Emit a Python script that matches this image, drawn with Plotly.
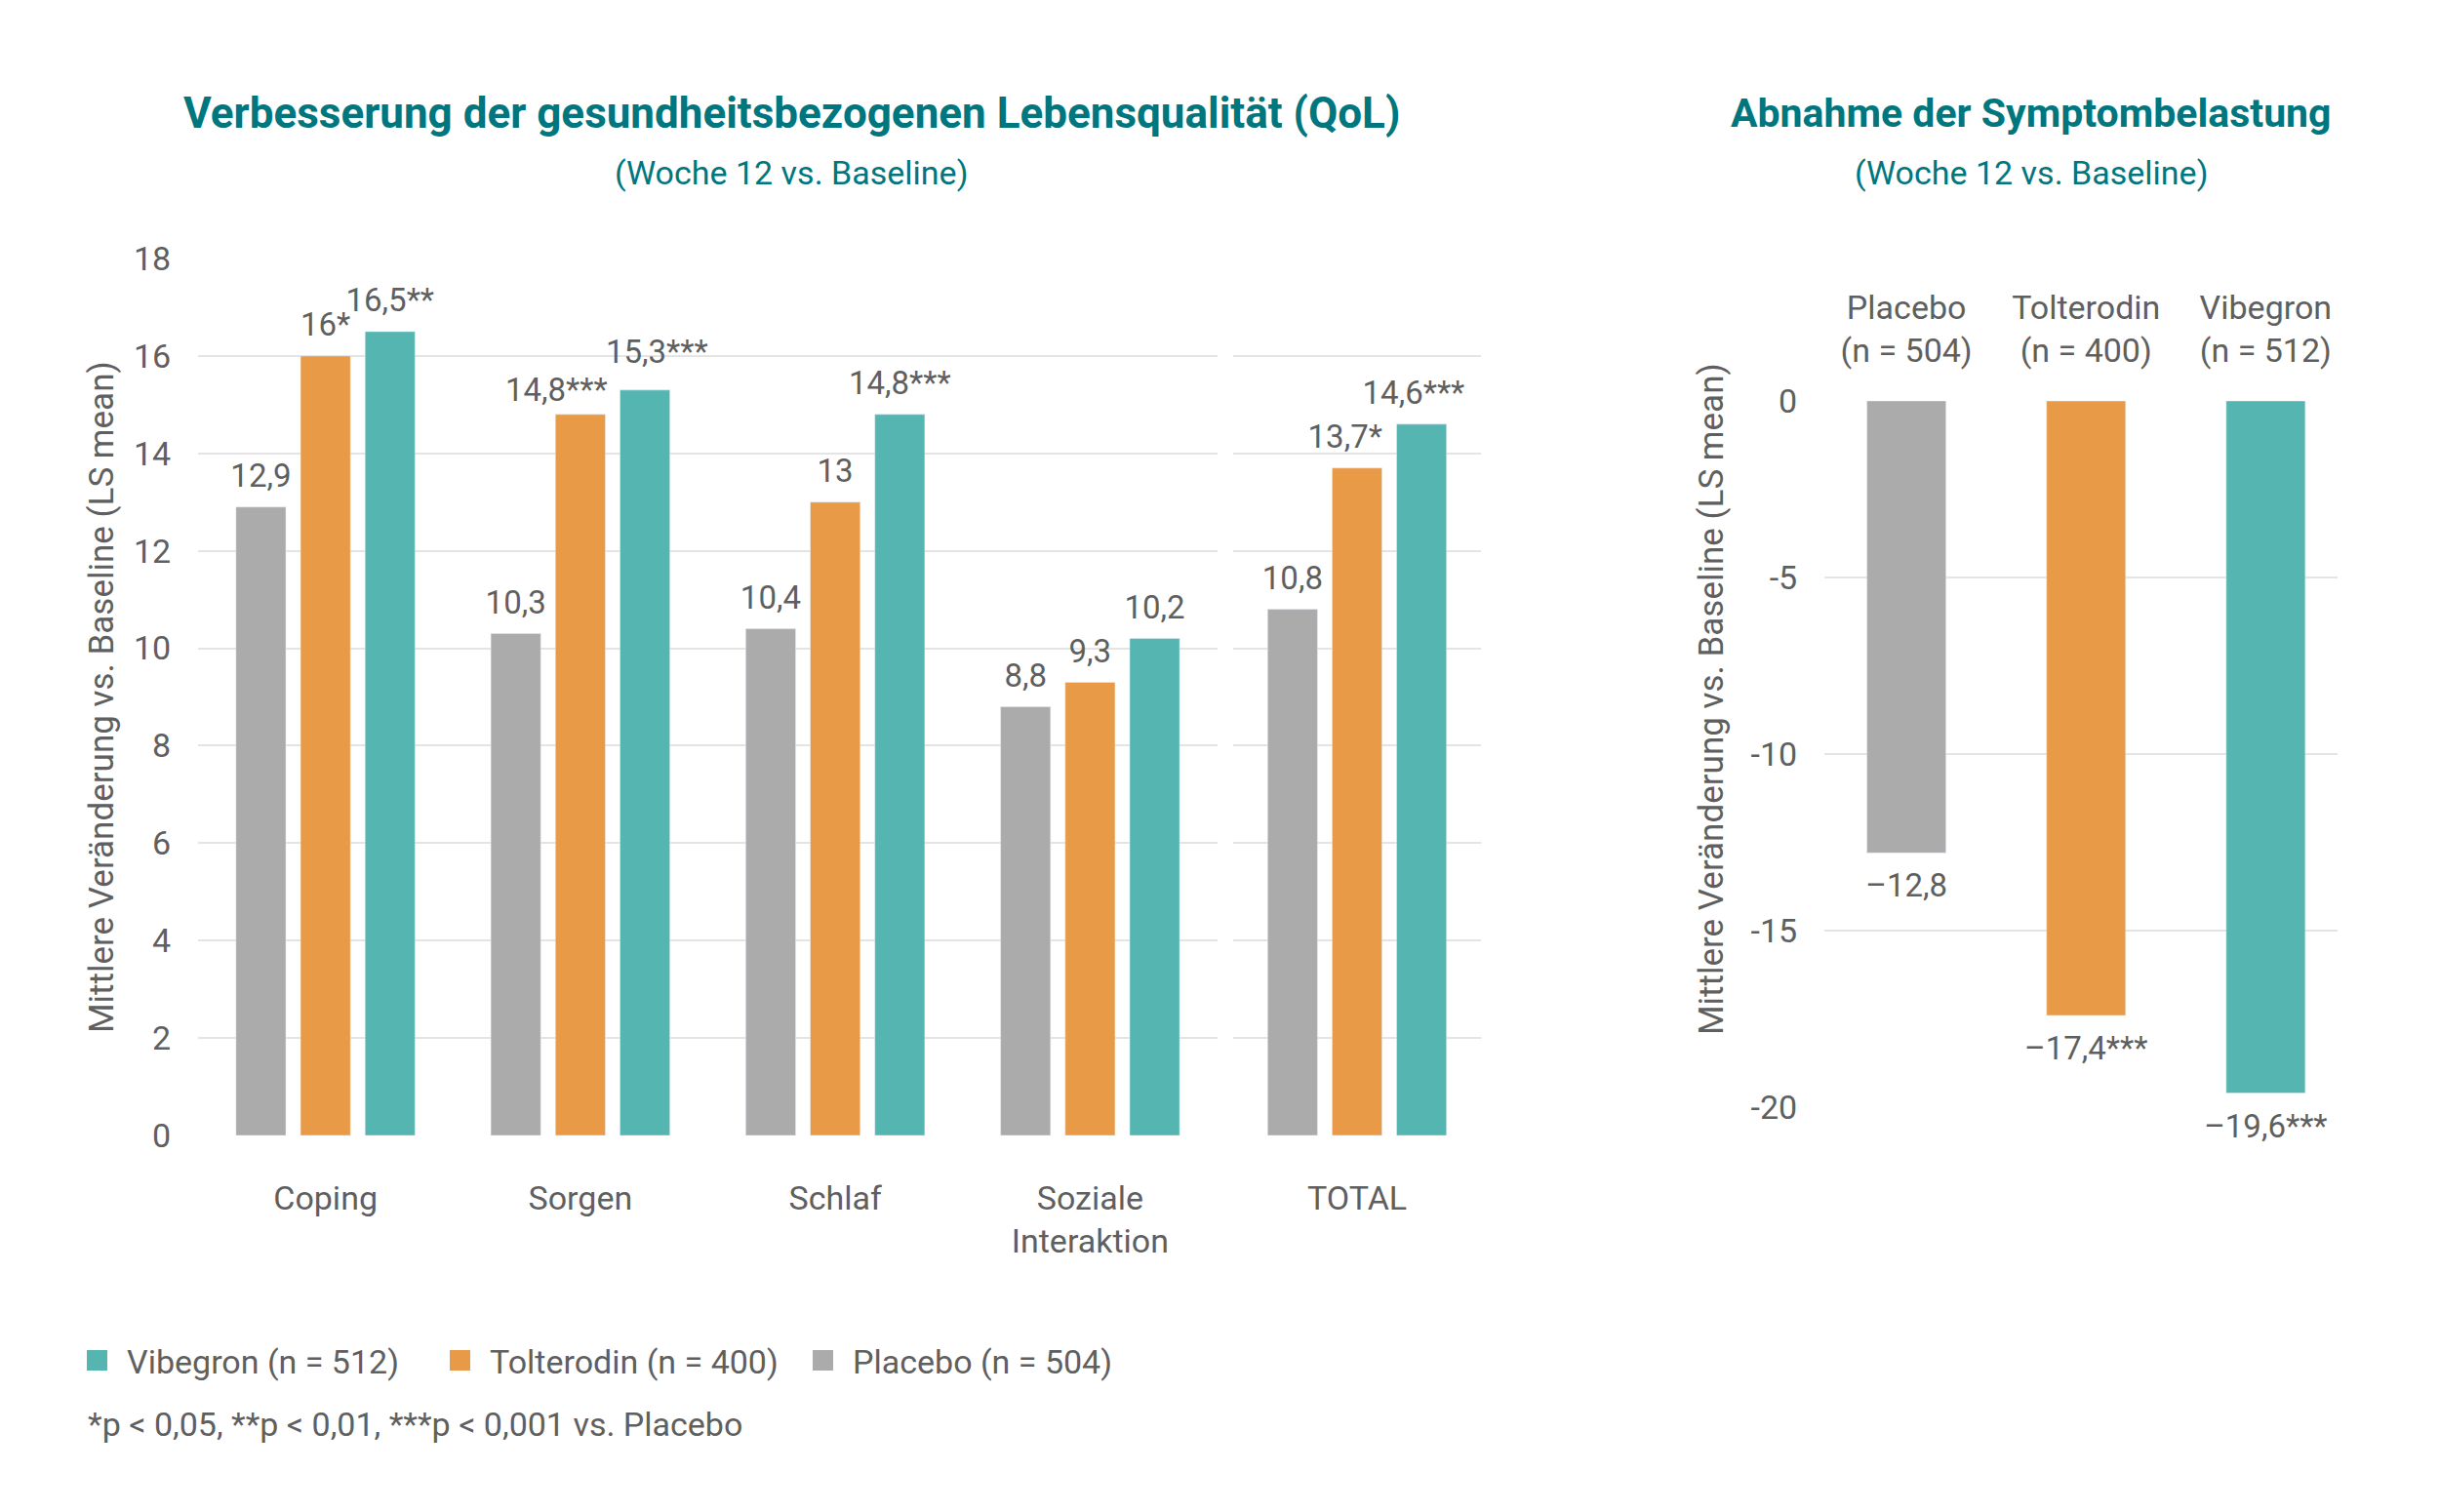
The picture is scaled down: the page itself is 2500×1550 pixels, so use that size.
import plotly.graph_objects as go

# ---------------- data ----------------
categories = ["Coping", "Sorgen", "Schlaf", "Soziale<br>Interaktion"]
total_cat = ["TOTAL"]
placebo = [12.9, 10.3, 10.4, 8.8]
tolterodin = [16.0, 14.8, 13.0, 9.3]
vibegron = [16.5, 15.3, 14.8, 10.2]
placebo_total = [10.8]
tolterodin_total = [13.7]
vibegron_total = [14.6]
sig_placebo = ["", "", "", ""]
sig_tolterodin = ["*", "***", "", ""]
sig_vibegron = ["**", "***", "***", ""]
sig_placebo_total = [""]
sig_tolterodin_total = ["*"]
sig_vibegron_total = ["***"]

sym_groups = ["Placebo<br>(n = 504)", "Tolterodin<br>(n = 400)", "Vibegron<br>(n = 512)"]
sym_values = [-12.8, -17.4, -19.6]
sym_sig = ["", "***", "***"]

left_ticks = [0, 2, 4, 6, 8, 10, 12, 14, 16, 18]
right_ticks = [0, -5, -10, -15, -20]

series_names = ["Placebo (n = 504)", "Tolterodin (n = 400)", "Vibegron (n = 512)"]
colors = ["#ababab", "#e89a46", "#55b5b0"]

# ---------------- label styling (not data) ----------------
# (nbsp before, nbsp after) horizontal nudges; label gap via invisible marker size
nudge_main = [[(0, 0)] * 4,
              [(0, 0), (0, 6), (0, 0), (0, 0)],
              [(0, 0), (3, 0), (0, 0), (0, 0)]]
gap_main = [[18] * 4, [18, 7, 18, 18], [18, 30, 18, 18]]
nudge_total = [[(0, 0)], [(0, 3)], [(0, 2)]]
gap_total = [[18], [18], [18]]
gap_sym = 31

TEAL = "#00767f"
TXT = "#5f5f5f"
GRID = "#e4e4e4"
FONT = "Roboto"
NB = "\u00a0"
BARGAP = 0.24


def fmt(v, s, nudge=(0, 0)):
    t = f"{v:.1f}".replace(".", ",")
    if t.endswith(",0"):
        t = t[:-2]
    return NB * nudge[0] + t.replace("-", "\u2013") + s + NB * nudge[1]


fig = go.Figure()

main_sets = [(placebo, sig_placebo, placebo_total, sig_placebo_total),
             (tolterodin, sig_tolterodin, tolterodin_total, sig_tolterodin_total),
             (vibegron, sig_vibegron, vibegron_total, sig_vibegron_total)]

LBL = dict(family=FONT, size=33, color=TXT)

for i, (vals, sig, tv, ts) in enumerate(main_sets):
    fig.add_trace(go.Bar(x=categories, y=vals, name=series_names[i], marker=dict(color=colors[i]),
                         xaxis="x", yaxis="y", showlegend=False, hoverinfo="skip"))
    fig.add_trace(go.Bar(x=total_cat, y=tv, name=series_names[i], marker=dict(color=colors[i]),
                         xaxis="x2", yaxis="y2", showlegend=False, hoverinfo="skip"))

fig.add_trace(go.Bar(x=sym_groups, y=sym_values, marker=dict(color=colors), width=0.44,
                     xaxis="x3", yaxis="y3", showlegend=False, hoverinfo="skip"))

# value labels (grouped scatter text, aligned with the grouped bars)
for i, (vals, sig, tv, ts) in enumerate(main_sets):
    fig.add_trace(go.Scatter(
        x=categories, y=vals, mode="markers+text", orientation="v",
        marker=dict(size=gap_main[i], opacity=0, color=colors[i]),
        text=[fmt(v, s, n) for v, s, n in zip(vals, sig, nudge_main[i])], textposition="top center",
        textfont=LBL, cliponaxis=False, xaxis="x", yaxis="y", showlegend=False, hoverinfo="skip"))
    fig.add_trace(go.Scatter(
        x=total_cat, y=tv, mode="markers+text", orientation="v",
        marker=dict(size=gap_total[i], opacity=0, color=colors[i]),
        text=[fmt(v, s, n) for v, s, n in zip(tv, ts, nudge_total[i])], textposition="top center",
        textfont=LBL, cliponaxis=False, xaxis="x2", yaxis="y2", showlegend=False, hoverinfo="skip"))

fig.add_trace(go.Scatter(
    x=sym_groups, y=sym_values, mode="markers+text", orientation="v",
    marker=dict(size=gap_sym, opacity=0, color="#000"),
    text=[fmt(v, s) for v, s in zip(sym_values, sym_sig)], textposition="bottom center",
    textfont=LBL, cliponaxis=False, xaxis="x3", yaxis="y3", showlegend=False, hoverinfo="skip"))

# legend entries (Vibegron, Tolterodin, Placebo) on a hidden helper axis
for i in [2, 1, 0]:
    fig.add_trace(go.Scatter(
        x=[None], y=[None], mode="markers", name=series_names[i],
        marker=dict(symbol="square", size=16, color=colors[i], line=dict(width=5, color=colors[i])),
        xaxis="x4", yaxis="y4", showlegend=True, hoverinfo="skip"))

W, H = 2500, 1550
px = lambda x: x / W
py = lambda y: 1 - y / H

tickfont = dict(family=FONT, size=34, color=TXT)
HIDE = "rgba(0,0,0,0)"
yleft = dict(range=[0, 18], tickvals=left_ticks, showgrid=True, gridcolor=GRID, gridwidth=2, zeroline=False,
             showline=False, tickfont=tickfont, ticks="outside", ticklen=20, tickcolor=HIDE,
             domain=[py(1164), py(265)], automargin=False)

fig.update_layout(
    width=W, height=H, margin=dict(l=0, r=0, t=0, b=0, autoexpand=False),
    paper_bgcolor="white", plot_bgcolor="white",
    barmode="group", bargap=BARGAP, bargroupgap=0.227,
    scattermode="group", scattergap=BARGAP,
    font=dict(family=FONT, color=TXT),
    xaxis=dict(domain=[px(203), px(1248)], tickfont=tickfont, ticks="outside", ticklen=34,
               tickcolor=HIDE, showline=False, showgrid=False, automargin=False),
    xaxis2=dict(domain=[px(1264), px(1518)], range=[-0.4866, 0.4866], tickfont=tickfont, ticks="outside",
                ticklen=34, tickcolor=HIDE, showline=False, showgrid=False, anchor="y2", automargin=False),
    xaxis3=dict(domain=[px(1870), px(2396)], range=[-0.457, 2.40], side="top", tickfont=tickfont,
                ticks="outside", ticklen=25, tickcolor=HIDE, showline=False, showgrid=False,
                anchor="y3", automargin=False),
    xaxis4=dict(domain=[0, 0.01], visible=False, anchor="y4"),
    yaxis=yleft,
    yaxis2=dict(yleft, showticklabels=False, anchor="x2"),
    yaxis3=dict(range=[-20, 0], tickvals=right_ticks, ticktext=[str(t) for t in right_ticks],
                showgrid=True, gridcolor=GRID, gridwidth=2, zeroline=False,
                showline=False, tickfont=tickfont, ticks="outside", ticklen=20,
                tickcolor=HIDE, domain=[py(1135), py(411)], anchor="x3", automargin=False),
    yaxis4=dict(domain=[0, 0.01], visible=False, anchor="x4"),
    legend=dict(orientation="h", x=px(69), y=py(1395), xanchor="left", yanchor="middle",
                font=dict(family=FONT, size=34, color=TXT), traceorder="normal", itemwidth=51,
                entrywidth=306, entrywidthmode="pixels"),
    showlegend=True,
)

annos = [
    dict(text="<b>Verbesserung der gesundheitsbezogenen Lebensqualität (QoL)</b>", x=px(811), y=py(116),
         font=dict(family=FONT, size=44, color=TEAL)),
    dict(text="(Woche 12 vs. Baseline)", x=px(811), y=py(177), font=dict(family=FONT, size=34, color=TEAL)),
    dict(text="<b>Abnahme der Symptombelastung</b>", x=px(2082), y=py(116),
         font=dict(family=FONT, size=41, color=TEAL)),
    dict(text="(Woche 12 vs. Baseline)", x=px(2082), y=py(177), font=dict(family=FONT, size=34, color=TEAL)),
    dict(text="Mittlere Veränderung vs. Baseline (LS mean)", x=px(104), y=py(715), textangle=-90,
         font=dict(family=FONT, size=35, color=TXT)),
    dict(text="Mittlere Veränderung vs. Baseline (LS mean)", x=px(1754), y=py(717), textangle=-90,
         font=dict(family=FONT, size=35, color=TXT)),
]
for a in annos:
    fig.add_annotation(xref="paper", yref="paper", showarrow=False, xanchor="center", yanchor="middle", **a)

fig.add_annotation(text="*p &lt; 0,05, **p &lt; 0,01, ***p &lt; 0,001 vs. Placebo", xref="paper", yref="paper",
                   x=px(88), y=py(1460), xanchor="left", yanchor="middle", showarrow=False,
                   font=dict(family=FONT, size=34, color=TXT))

fig.write_html("out.html")
